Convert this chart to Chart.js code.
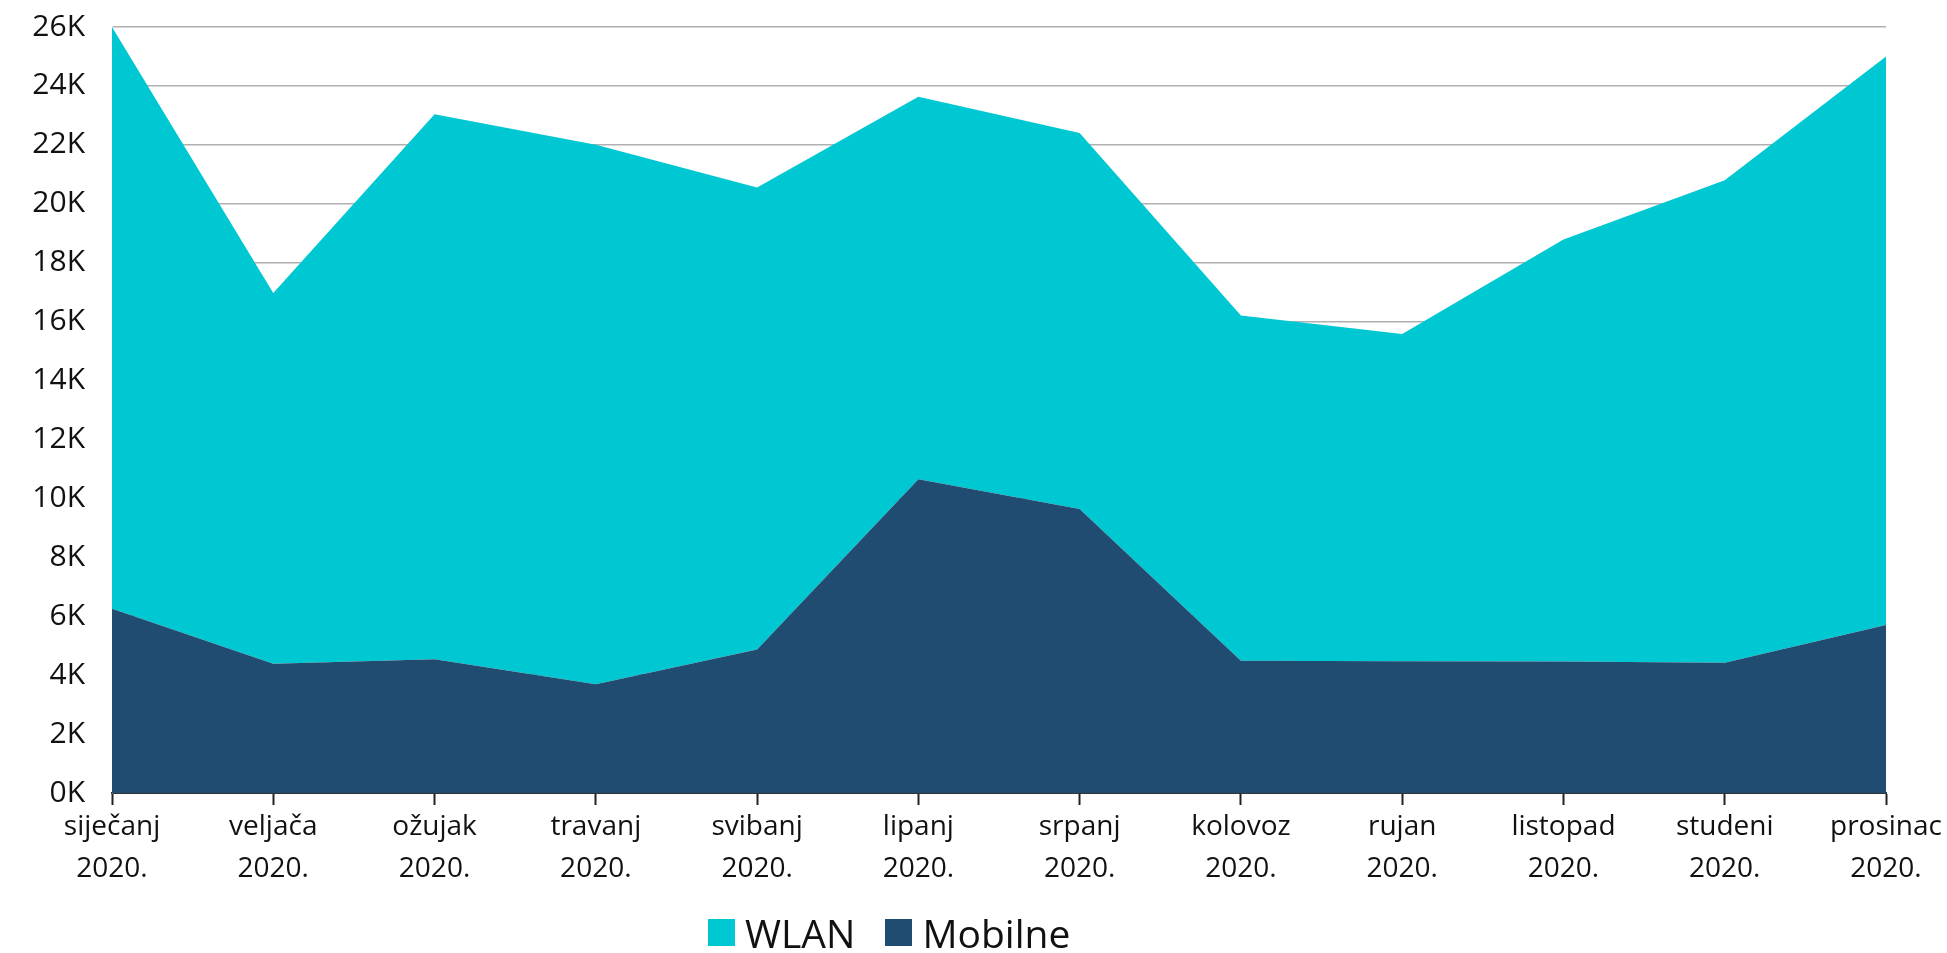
<!DOCTYPE html>
<html>
<head>
<meta charset="utf-8">
<script src="https://cdn.jsdelivr.net/npm/chart.js@4.4.1/dist/chart.umd.min.js"></script>
<style>
  html, body { margin: 0; padding: 0; background: #ffffff; }
  #wrap { position: relative; width: 1947px; height: 953px; }
  #chart { position: absolute; left: 0; top: 0; }
  #legend {
    position: absolute; left: 708px; top: 911px; height: 42px;
    display: flex; align-items: center;
    font-family: "Open Sans", "DejaVu Sans", sans-serif; font-size: 39px; color: #111;
  }
  .item { display: flex; align-items: center; margin-right: 30px; }
  .swatch { width: 27px; height: 27px; margin-right: 10px; }
</style>
</head>
<body>
<div id="wrap">
  <canvas id="chart" width="1947" height="953"></canvas>
  <div id="legend"></div>
</div>
<script>
// Monthly device counts, 2020
const months = ["siječanj", "veljača", "ožujak", "travanj", "svibanj", "lipanj",
                "srpanj", "kolovoz", "rujan", "listopad", "studeni", "prosinac"];
const yearLabel = "2020.";
const mobilne = [6250, 4390, 4540, 3690, 4870, 10650, 9640, 4490, 4470, 4460, 4420, 5700];
const wlan    = [19750, 12580, 18500, 18310, 15680, 12980, 12760, 11720, 11110, 14330, 16380, 19300];
const yTicks = [0, 2000, 4000, 6000, 8000, 10000, 12000, 14000, 16000, 18000, 20000, 22000, 24000, 26000];

const seriesNames = { wlan: "WLAN", mobilne: "Mobilne" };
const colors = { wlan: "#00c8d3", mobilne: "#214c72" };

const labels = months.map(m => [m, yearLabel]);
const fontFamily = '"Open Sans", "DejaVu Sans", sans-serif';

new Chart(document.getElementById("chart"), {
  type: "line",
  data: {
    labels: labels,
    datasets: [
      {
        label: seriesNames.mobilne,
        data: mobilne,
        backgroundColor: colors.mobilne,
        borderWidth: 0,
        pointRadius: 0,
        fill: "origin",
        tension: 0
      },
      {
        label: seriesNames.wlan,
        data: wlan,
        backgroundColor: colors.wlan,
        borderWidth: 0,
        pointRadius: 0,
        fill: "-1",
        tension: 0
      }
    ]
  },
  options: {
    responsive: false,
    animation: false,
    layout: { padding: { left: 0, right: 61, top: 27, bottom: 0 } },
    plugins: {
      legend: { display: false },
      tooltip: { enabled: false }
    },
    scales: {
      x: {
        offset: false,
        grid: {
          drawOnChartArea: false,
          drawTicks: true,
          tickLength: 12,
          tickWidth: 2,
          tickColor: "#222"
        },
        border: { display: true, color: "#333", width: 2 },
        ticks: {
          color: "#111",
          padding: 1,
          maxRotation: 0,
          autoSkip: false,
          font: { family: fontFamily, size: 28, lineHeight: 1.5 }
        },
        afterFit: s => {
          s.height = 160;
          s.paddingTop = 0; s.paddingBottom = 0;
          s.paddingLeft = 0; s.paddingRight = 0;
        }
      },
      y: {
        stacked: true,
        min: 0,
        max: 26000,
        afterBuildTicks: s => { s.ticks = yTicks.map(v => ({ value: v })); },
        grid: {
          color: ctx => ctx.tick && ctx.tick.value === 0 ? "rgba(0,0,0,0)" : "#b0b0b0",
          lineWidth: 1.5,
          drawTicks: false
        },
        border: { display: true, color: "#d0d0d0", width: 1 },
        ticks: {
          color: "#111",
          padding: 27,
          font: { family: fontFamily, size: 30 },
          callback: v => (v / 1000) + "K"
        },
        afterFit: s => {
          s.width = 112;
          s.paddingTop = 0; s.paddingBottom = 0;
        }
      }
    }
  }
});

// Legend, WLAN first
const legend = document.getElementById("legend");
["wlan", "mobilne"].forEach(key => {
  const item = document.createElement("div");
  item.className = "item";
  const sw = document.createElement("div");
  sw.className = "swatch";
  sw.style.background = colors[key];
  const tx = document.createElement("span");
  tx.textContent = seriesNames[key];
  item.appendChild(sw);
  item.appendChild(tx);
  legend.appendChild(item);
});
</script>
</body>
</html>
